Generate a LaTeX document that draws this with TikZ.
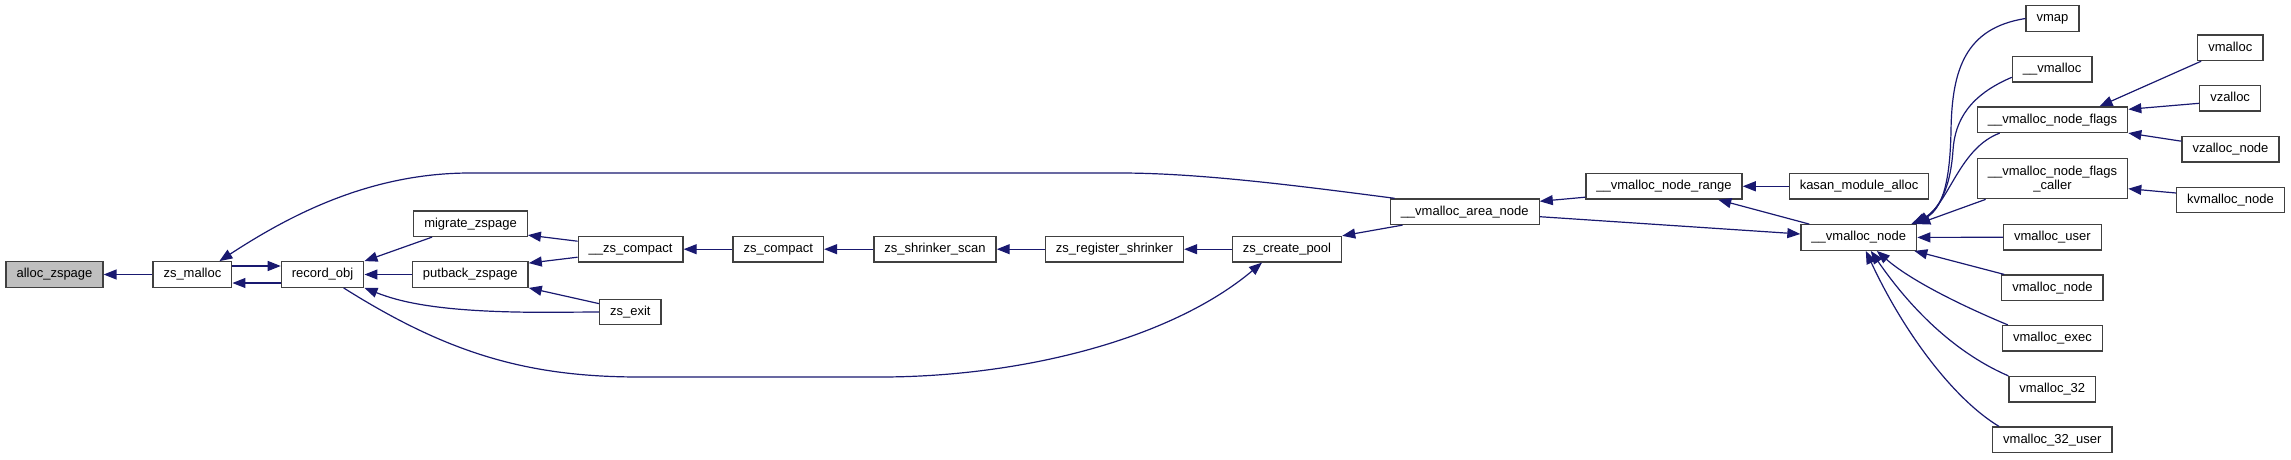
\documentclass[tikz,border=0pt]{standalone}
\usepackage{fontspec}
\setmainfont{Liberation Sans}
\usetikzlibrary{arrows.meta}
\definecolor{Edge}{HTML}{191970}
\definecolor{Frame}{HTML}{404040}
\definecolor{Start}{HTML}{BFBFBF}
\newcommand{\fnsize}{\fontsize{13}{14}\selectfont}

\begin{document}
\begin{tikzpicture}[
      x=1pt,y=-1pt,
      fn/.style={draw=Frame,line width=1.3pt,fill=white,font=\fnsize,
        inner xsep=10.5pt,inner ysep=0pt,minimum height=25.5pt,
        text height=9.6pt,text depth=2.9pt},
      twoline/.style={fn,align=center,text height=,text depth=,minimum height=40pt},
      call/.style={-{Triangle[length=13pt,width=10pt]},line width=1.2pt,color=Edge}
    ]
  \useasboundingbox (0,0) rectangle (2291,459);

  \node[fn,fill=Start] (alloczs) at (54.5,274.5) {alloc\_zspage};
  \node[fn] (zsmalloc) at (192.4,274.5) {zs\_malloc};
  \node[fn] (recordobj) at (322.6,274.5) {record\_obj};
  \node[fn] (migrate) at (470.5,223.7) {migrate\_zspage};
  \node[fn] (putback) at (470.3,274.5) {putback\_zspage};
  \node[fn] (uzscompact) at (630.6,249.2) {\_\_zs\_compact};
  \node[fn] (zsexit) at (630.3,312) {zs\_exit};
  \node[fn] (zscompact) at (778.3,249.2) {zs\_compact};
  \node[fn] (shrinkscan) at (935,249.2) {zs\_shrinker\_scan};
  \node[fn] (regshrink) at (1114.5,249.2) {zs\_register\_shrinker};
  \node[fn] (createpool) at (1287,249.2) {zs\_create\_pool};
  \node[fn] (areanode) at (1464.7,211.7) {\_\_vmalloc\_area\_node};
  \node[fn] (noderange) at (1664,186.3) {\_\_vmalloc\_node\_range};
  \node[fn] (kasan) at (1859,186.3) {kasan\_module\_alloc};
  \node[fn] (vnode) at (1858.8,237.5) {\_\_vmalloc\_node};
  \node[fn] (vmap) at (2052.5,18.5) {vmap};
  \node[fn] (uvmalloc) at (2052.2,69.3) {\_\_vmalloc};
  \node[fn] (nodeflags) at (2052.5,119.7) {\_\_vmalloc\_node\_flags};
  \node[twoline] (flagscaller) at (2052.5,178.7) {\_\_vmalloc\_node\_flags\\\_caller};
  \node[fn] (vmuser) at (2052.4,237.2) {vmalloc\_user};
  \node[fn] (vmnode) at (2052.4,287.8) {vmalloc\_node};
  \node[fn] (vmexec) at (2052.4,338.3) {vmalloc\_exec};
  \node[fn] (vm32) at (2052.3,389.2) {vmalloc\_32};
  \node[fn] (vm32user) at (2052.3,439.8) {vmalloc\_32\_user};
  \node[fn] (vmalloc) at (2230.3,47.8) {vmalloc};
  \node[fn] (vzalloc) at (2230.1,98.3) {vzalloc};
  \node[fn] (vzallocnode) at (2230.5,149.2) {vzalloc\_node};
  \node[fn] (kvmalloc) at (2230.5,200) {kvmalloc\_node};

  \draw[call] (zsmalloc) -- (alloczs);
  \draw[call] ([yshift=8.5pt]zsmalloc.east) -- ([yshift=8.5pt]recordobj.west);
  \draw[call] ([yshift=-8.5pt]recordobj.west) -- ([yshift=-8.5pt]zsmalloc.east);
  \draw[call] ([xshift=5pt]areanode.north west) .. controls (1300,186) and (1200,173) .. (1120,173)
    -- (470,173) .. controls (370,173) and (290,215) .. ([xshift=27pt]zsmalloc.north);
  \draw[call] ([xshift=19pt]migrate.south west) -- (recordobj.north east);
  \draw[call] (putback) -- (recordobj);
  \draw[call] (zsexit.west) -- (545,312.3) .. controls (440,312.3) and (400,302) .. (recordobj.south east);
  \draw[call] ([xshift=21pt]recordobj.south) .. controls (450,355) and (530,377) .. (640,377)
    -- (880,377) .. controls (1020,377) and (1170,340) .. ([xshift=-25pt]createpool.south);
  \draw[call] ([yshift=8pt]uzscompact.west) -- ([yshift=2pt]migrate.south east);
  \draw[call] ([yshift=-8pt]uzscompact.west) -- ([yshift=-2pt]putback.north east);
  \draw[call] ([yshift=-5pt]zsexit.north west) -- (putback.south east);
  \draw[call] (zscompact) -- (uzscompact);
  \draw[call] (shrinkscan) -- (zscompact);
  \draw[call] (regshrink) -- (shrinkscan);
  \draw[call] (createpool) -- (regshrink);
  \draw[call] ([xshift=13pt]areanode.south west) -- (createpool.north east);
  \draw[call] ([yshift=2.5pt]noderange.south west) -- ([yshift=-3pt]areanode.north east);
  \draw[call] (kasan) -- (noderange);
  \draw[call] ([yshift=-5pt]areanode.east) -- ([yshift=3.5pt]vnode.west);
  \draw[call] ([xshift=9pt]vnode.north west) -- ([xshift=-24.5pt]noderange.south east);
  \draw[call] (vmap.west) .. controls (1965,28) and (1952,70) .. (1951,130)
    .. controls (1950,190) and (1940,212) .. ([xshift=-6pt]vnode.north east);
  \draw[call] ([yshift=-8pt]uvmalloc.west) .. controls (1970,95) and (1955,120) .. (1953,150)
    .. controls (1950,195) and (1935,212) .. ([xshift=-4pt]vnode.north east);
  \draw[call] ([xshift=23pt]nodeflags.south west) .. controls (1960,148) and (1950,200) .. ([xshift=-1pt]vnode.north east);
  \draw[call] ([xshift=9pt]flagscaller.south west) -- (vnode.north east);
  \draw[call] (vmuser) -- (vnode);
  \draw[call] ([xshift=3pt]vmnode.north west) -- ([xshift=-3pt]vnode.south east);
  \draw[call] ([xshift=6pt]vmexec.north west) .. controls (1960,305) and (1910,280) .. ([xshift=18pt]vnode.south);
  \draw[call] (vm32.north west) .. controls (1960,355) and (1915,315) .. ([xshift=12pt]vnode.south);
  \draw[call] ([xshift=7pt]vm32user.north west) .. controls (1955,400) and (1905,335) .. ([xshift=7pt]vnode.south);
  \draw[call] ([xshift=4pt]vmalloc.south west) -- ([xshift=47pt]nodeflags.north);
  \draw[call] ([yshift=-5pt]vzalloc.west) -- ([yshift=-3pt]nodeflags.north east);
  \draw[call] ([yshift=8pt]vzallocnode.west) -- (nodeflags.south east);
  \draw[call] ([yshift=7pt]kvmalloc.west) -- ([yshift=-10pt]flagscaller.east);
\end{tikzpicture}
\end{document}
